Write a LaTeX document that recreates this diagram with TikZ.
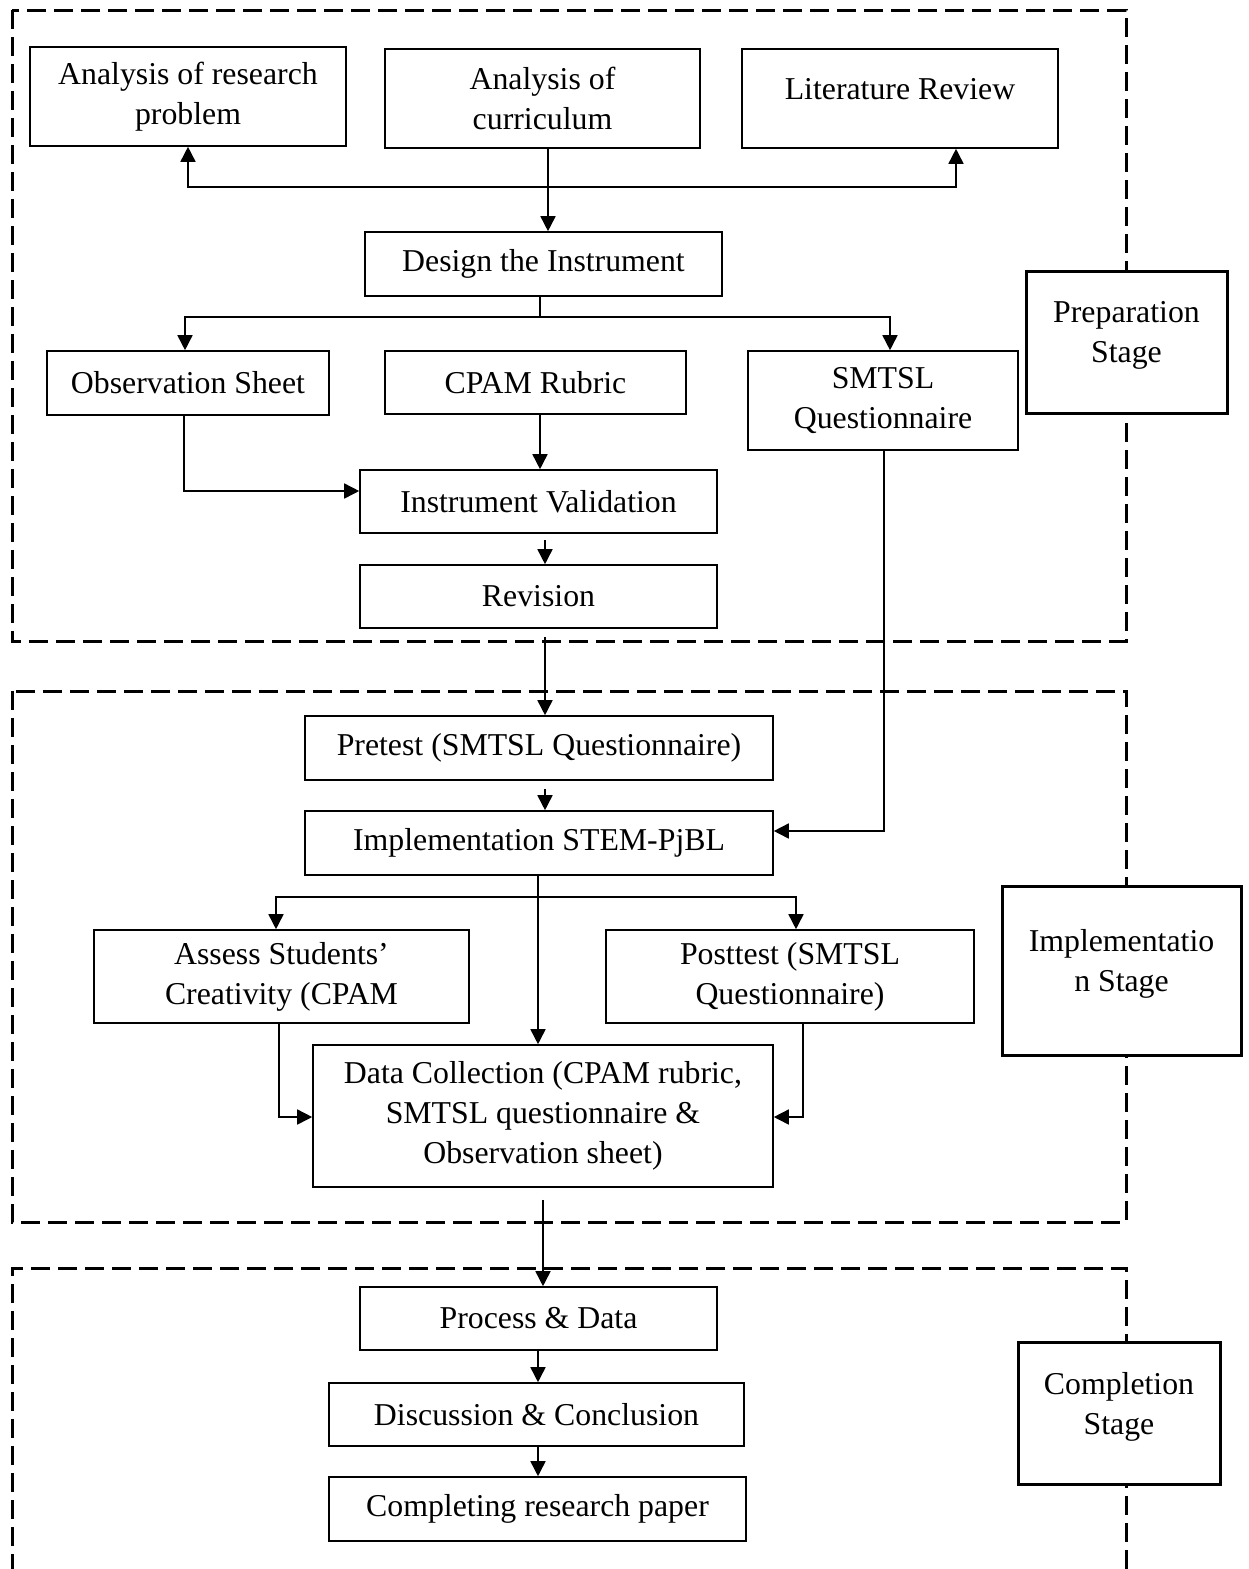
\documentclass[tikz,border=0pt]{standalone}
\usepackage{fontspec}
\setmainfont{Liberation Serif}
\usetikzlibrary{arrows.meta}

\tikzset{
  box/.style={draw,line width=0.8pt,rectangle,align=center,inner sep=0pt},
  stagebox/.style={draw,line width=1.5pt,fill=white,rectangle,align=center,inner sep=0pt},
  frame/.style={line width=1.5pt,dash pattern=on 9.5pt off 4pt},
  arr/.style={line width=0.8pt,-{Triangle[length=7.5pt,width=7.5pt]}},
  line/.style={line width=0.8pt}
}

\begin{document}
\begin{tikzpicture}
  [x=0.5pt,y=-0.5pt,every node/.style={font=\fontsize{15.9}{20}\selectfont}]
  \useasboundingbox (0,0) rectangle (1248,1569);

  % stage frames
  \draw[frame] (12,10) rectangle (1126,641);
  \draw[frame] (12,691) rectangle (1126,1222);
  \draw[frame] (12,1600) -- (12,1268) -- (1126,1268) -- (1126,1600);

  % preparation
  \node[box,minimum width=158pt,minimum height=49.5pt] (anres) at (188,96.5) {Analysis of research\\problem};
  \node[box,minimum width=157.5pt,minimum height=49.5pt] (ancur) at (542.5,98.5) {Analysis of\\curriculum};
  \node[box,minimum width=158pt,minimum height=49.5pt] (litrev) at (900,98.5) {Literature Review\\[-10pt]};
  \node[box,minimum width=178.5pt,minimum height=32pt] (design) at (543.5,264) {Design the Instrument};
  \node[box,minimum width=141pt,minimum height=32pt] (obs) at (188,383) {Observation Sheet};
  \node[box,minimum width=150.5pt,minimum height=31.5pt] (rubric) at (535.5,382.5) {CPAM Rubric};
  \node[box,minimum width=135pt,minimum height=49.5pt] (quest) at (883,400.5) {SMTSL\\Questionnaire};
  \node[box,minimum width=178.5pt,minimum height=31.5pt] (valid) at (538.5,501.5) {Instrument Validation};
  \node[box,minimum width=178.5pt,minimum height=31.5pt] (revis) at (538.5,596.5) {Revision};

  % implementation
  \node[box,minimum width=234pt,minimum height=32pt] (pretest) at (539,748) {Pretest (SMTSL Questionnaire)};
  \node[box,minimum width=234pt,minimum height=32pt] (impl) at (539,843) {Implementation STEM-PjBL};
  \node[box,minimum width=187.5pt,minimum height=46.5pt] (assess) at (281.5,976.5) {Assess Students'\\Creativity (CPAM};
  \node[box,minimum width=184pt,minimum height=46.5pt] (posttest) at (790,976.5) {Posttest (SMTSL\\Questionnaire)};
  \node[box,minimum width=230pt,minimum height=71pt] (data) at (543,1116) {Data Collection (CPAM rubric,\\SMTSL questionnaire \&\\Observation sheet)};

  % completion
  \node[box,minimum width=178.5pt,minimum height=31.5pt] (process) at (538.5,1318.5) {Process \& Data};
  \node[box,minimum width=207.5pt,minimum height=31.5pt] (discuss) at (536.5,1414.5) {Discussion \& Conclusion};
  \node[box,minimum width=208.5pt,minimum height=32pt] (paper) at (537.5,1509) {Completing research paper};

  % stage labels
  \node[stagebox,minimum width=100.5pt,minimum height=71pt] (prep) at (1126.5,342) {Preparation\\Stage\\[-10pt]};
  \node[stagebox,minimum width=119.5pt,minimum height=84.5pt] (implst) at (1121.5,970.5) {Implementatio\\n Stage\\[-10pt]};
  \node[stagebox,minimum width=101pt,minimum height=71pt] (compl) at (1119,1413) {Completion\\Stage\\[-10pt]};

  % connectors
  \coordinate (split1) at (548,187);
  \coordinate (split2) at (540,317);
  \coordinate (split3) at (538,897);
  \draw[arr] (ancur.south -| split1) -- (split1 |- design.north);
  \draw[arr] (split1) -| (anres.south);
  \draw[arr] (split1) -| (litrev.south -| 956,0);
  \draw[line] (design.south -| split2) -- (split2);
  \draw[arr] (split2) -| (obs.north -| 185,0);
  \draw[arr] (split2) -| (quest.north -| 890,0);
  \draw[arr] (obs.south -| 184,0) |- (valid.west |- 0,491);
  \draw[arr] (rubric.south -| 540,0) -- (valid.north -| 540,0);
  \draw[arr] ([yshift=-3pt]valid.south -| 545,0) -- (revis.north -| 545,0);
  \draw[arr] ([yshift=-4pt]revis.south -| 545,0) -- (pretest.north -| 545,0);
  \draw[arr] (quest.south -| 884,0) |- (impl.east |- 0,831);
  \draw[arr] ([yshift=-4pt]pretest.south -| 545,0) -- (impl.north -| 545,0);
  \draw[line] (impl.south -| split3) -- (split3);
  \draw[arr] (split3) -| (assess.north -| 276,0);
  \draw[arr] (split3) -| (posttest.north -| 796,0);
  \draw[arr] (split3) -- (data.north -| split3);
  \draw[arr] (assess.south -| 279,0) |- (data.west |- 0,1117);
  \draw[arr] (posttest.south -| 803,0) |- (data.east |- 0,1117);
  \draw[arr] ([yshift=-6pt]data.south -| 543,0) -- (process.north -| 543,0);
  \draw[arr] (process.south -| 538,0) -- (discuss.north -| 538,0);
  \draw[arr] (discuss.south -| 538,0) -- (paper.north -| 538,0);
\end{tikzpicture}
\end{document}
